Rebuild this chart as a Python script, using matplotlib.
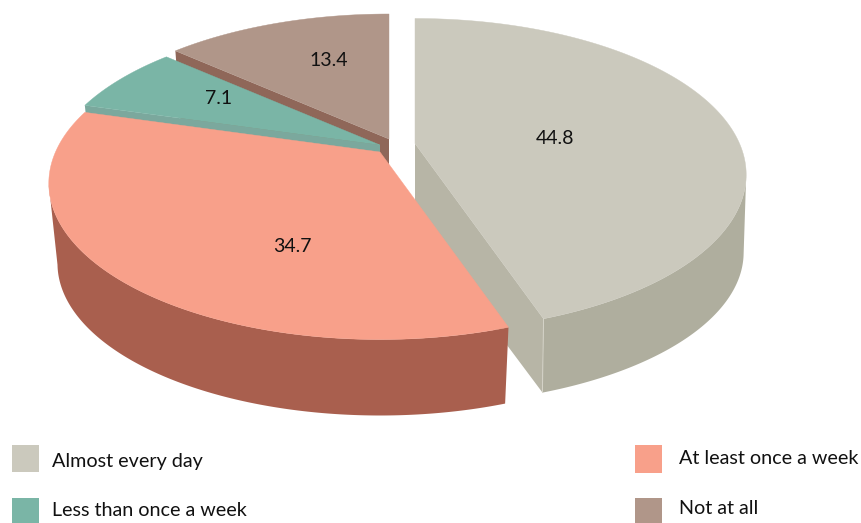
import numpy as np
import matplotlib
matplotlib.use("Agg")
import matplotlib.pyplot as plt
from matplotlib.patches import Polygon, Rectangle

labels = ["Almost every day", "At least once a week", "Less than once a week", "Not at all"]
values = [44.8, 34.7, 7.1, 13.4]
top_colors = ["#cbc9bd", "#f8a08a", "#7ab5a6", "#b09689"]
side_colors = ["#afae9e", "#a95f4e", "#7ba89d", "#8f6759"]
cut_colors = ["#b7b5a6", "#a95f4e", "#7ba89d", "#8f6759"]

# pixel layout of the exploded slices: apex of the top face, apex of the bottom face
apex_x = [415, 380, 380, 389]
apex_y = [143.5, 152, 145, 139]
bottom_y = [222, 233, 222, 215]
low_rx = [322, 316, 316, 316]
label_pos = [(555.5, 139), (292, 247), (219, 99), (329, 61)]
swatch_pos = [(12, 445), (635, 445), (12, 498), (635, 498)]
swatch_h = [27, 28, 25, 25]
text_pos = [(52, 461), (679, 459), (52, 511), (679, 508)]

# perspective of the disc
RX, RY, P = 324.5, 150.0, 0.2
RY_LOW = 146.0
# the wall silhouette leaves the disc where x / (1 + P * y) peaks
TANGENT = np.arccos(-P)


def project(theta, ax0, ay0, rx, ry):
    # theta runs clockwise from twelve o'clock
    x, y = np.sin(theta), np.cos(theta)
    s = 1 + P * y
    return np.column_stack([ax0 + rx * x / s, ay0 - ry * y / s])


fig = plt.figure(figsize=(8.61, 5.23), dpi=100)
ax = fig.add_axes([0, 0, 1, 1])
ax.set_xlim(0, 861)
ax.set_ylim(523, 0)
ax.axis("off")

edges = np.cumsum([0] + values) / 100 * 2 * np.pi

# back slices first so the front ones cover their walls
for i in [3, 2, 0, 1]:
    theta = np.linspace(edges[i], edges[i + 1], 240)
    top = project(theta, apex_x[i], apex_y[i], RX, RY)
    low = project(theta, apex_x[i], bottom_y[i], low_rx[i], RY_LOW)

    # outer wall, only the part that faces the front
    keep = (theta >= TANGENT) & (theta <= 2 * np.pi - TANGENT)
    if keep.sum() > 1:
        ax.add_patch(Polygon(np.vstack([top[keep], low[keep][::-1]]),
                             facecolor=side_colors[i], edgecolor="none"))

    # cut face on the side turned towards the viewer
    if i != 1:
        end = -1 if i == 0 else 0
        ap_top = [apex_x[i], apex_y[i]]
        ap_low = [apex_x[i], bottom_y[i]]
        ax.add_patch(Polygon([ap_top, top[end], low[end], ap_low],
                             facecolor=cut_colors[i], edgecolor="none"))
    if i == 0:
        ax.plot([top[-1, 0], low[-1, 0]], [top[-1, 1], low[-1, 1]], color="#d8d6cb", lw=0.6)

    ax.add_patch(Polygon(np.vstack([[apex_x[i], apex_y[i]], top]),
                         facecolor=top_colors[i], edgecolor=top_colors[i], lw=0.3))

for val, (x, y) in zip(values, label_pos):
    ax.text(x, y, f"{val}", ha="center", va="center", fontsize=14,
            family="Lato", color="#111111")

for name, color, (x, y), h, (tx, ty) in zip(labels, top_colors, swatch_pos, swatch_h, text_pos):
    ax.add_patch(Rectangle((x, y), 27, h, facecolor=color, edgecolor="none"))
    ax.text(tx, ty, name, ha="left", va="center", fontsize=14.25, family="Lato", color="#111111")

fig.savefig("out.png", dpi=100)
